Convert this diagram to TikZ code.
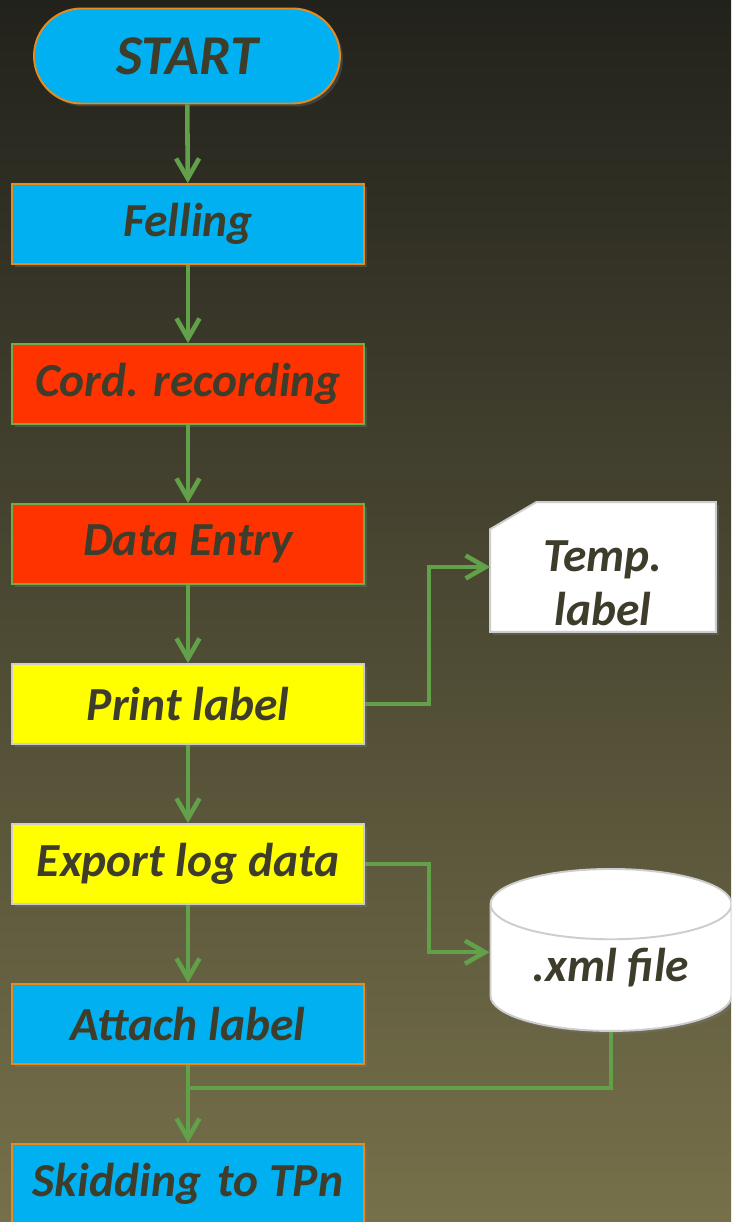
\documentclass[tikz,border=0pt]{standalone}
\usepackage{fontspec}
\setmainfont{Carlito}
\usetikzlibrary{arrows.meta,shapes.geometric,shadows,backgrounds}
\definecolor{bgtop}{RGB}{34,34,28}
\definecolor{bgbot}{RGB}{118,112,74}
\definecolor{boxcyan}{RGB}{0,176,240}
\definecolor{boxred}{RGB}{255,51,0}
\definecolor{boxyellow}{RGB}{255,255,0}
\definecolor{edgeorange}{RGB}{233,138,28}
\definecolor{edgegreen}{RGB}{112,173,71}
\definecolor{edgegray}{RGB}{205,205,205}
\definecolor{flowgreen}{RGB}{98,160,74}
\definecolor{txt}{RGB}{62,60,42}
\tikzset{
  softshadow/.style={drop shadow={opacity=0.3, shadow xshift=0.6mm, shadow yshift=-0.6mm}},
  stepbox/.style={rectangle, minimum width=7.04cm, minimum height=1.6cm, inner sep=0pt,
    line width=1.1pt, text=txt, font=\fontsize{27}{31}\selectfont\bfseries\itshape, softshadow},
  bluebox/.style={stepbox, fill=boxcyan, draw=edgeorange},
  redbox/.style={stepbox, fill=boxred, draw=edgegreen},
  yellowbox/.style={stepbox, fill=boxyellow, draw=edgegray},
  flow/.style={draw=flowgreen, line width=2.6pt, -{Straight Barb[length=4mm, width=4.6mm, line width=2.6pt]}},
  flowline/.style={draw=flowgreen, line width=2.6pt}
}
\begin{document}
\begin{tikzpicture}[x=0.02cm, y=-0.02cm]
\useasboundingbox (0,0) rectangle (731,1222);
\clip (0,0) rectangle (731,1222);

\node[bluebox, minimum width=6.12cm, minimum height=1.9cm, rounded corners=0.95cm, font=\fontsize{32}{36}\selectfont\bfseries\itshape] (start) at (187,56) {START};
\node[bluebox] (felling) at (188,224) {Felling};
\node[redbox] (cord) at (188,384) {Cord. recording};
\node[redbox] (entry) at (188,544) {Data Entry};
\node[yellowbox] (print) at (188,704) {Print label};
\node[yellowbox] (export) at (188,864) {Export log data};
\node[bluebox] (attach) at (188,1024) {Attach label};
\node[bluebox] (skid) at (188,1184) {Skidding\hspace{0.35em}to TPn};

\node[rectangle, minimum width=4.5cm, minimum height=2.58cm, inner sep=0pt, align=center,
  text=txt, font=\fontsize{27}{31}\selectfont\bfseries\itshape, text height=67pt, text depth=0pt] (temp) at (603,567) {Temp.\\label};
\node[cylinder, shape border rotate=90, aspect=0.45, minimum width=4.82cm, minimum height=3.24cm, inner sep=0pt,
  fill=white, draw=edgegray, line width=1.1pt,
  text=txt, font=\fontsize{27}{31}\selectfont\bfseries\itshape, softshadow] (xml) at (611,968) {.xml file};

\begin{scope}[on background layer]
\shade[top color=bgtop, bottom color=bgbot] (0,0) rectangle (731,1222);
\filldraw[fill=white, draw=edgegray, line width=1.1pt, softshadow] (temp.south west) -- (temp.south east) -- (temp.north east)
  -- ([xshift=0.92cm]temp.north west) -- ([yshift=-0.54cm]temp.north west) -- cycle;
\end{scope}

\coordinate (join) at (188,1088);
\draw[flow] (start) -- (felling);
\draw[flow] (felling) -- (cord);
\draw[flow] (cord) -- (entry);
\draw[flow] (entry) -- (print);
\draw[flow] (print) -- (export);
\draw[flow] (export) -- (attach);
\draw[flow] (attach) -- (skid);
\draw[flow] (print.east) -- ++(64,0) |- (temp.west);
\draw[flow] (export.east) -- ++(64,0) |- ([yshift=9pt]xml.west);
\draw[flowline] (xml.south) |- (join);
\end{tikzpicture}
\end{document}
